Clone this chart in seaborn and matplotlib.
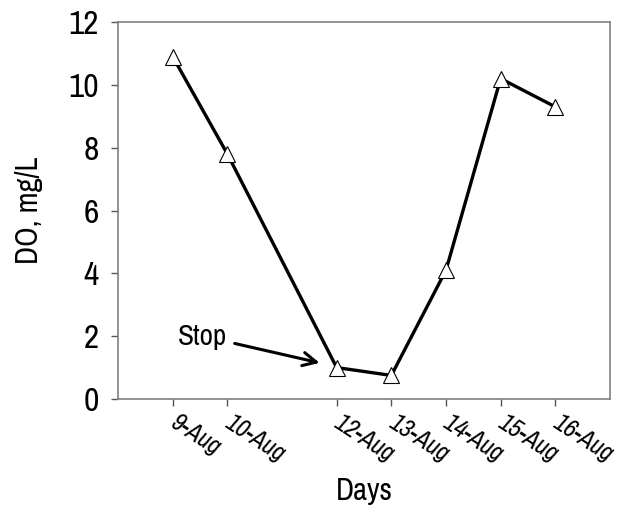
import pandas as pd
import matplotlib
matplotlib.use("Agg")
import matplotlib.pyplot as plt
import matplotlib.transforms as mtransforms
import seaborn as sns

# data
days = ["2009-08-09", "2009-08-10", "2009-08-12", "2009-08-13",
        "2009-08-14", "2009-08-15", "2009-08-16"]
do_mg_l = [10.9, 7.8, 1.0, 0.75, 4.1, 10.2, 9.3]
tick_labels = ["9-Aug", "10-Aug", "12-Aug", "13-Aug", "14-Aug", "15-Aug", "16-Aug"]


def main():
    sns.set_style("ticks")
    plt.rcParams["font.family"] = ["Archivo Narrow", "DejaVu Sans"]
    plt.rcParams["text.color"] = "black"
    plt.rcParams["axes.labelcolor"] = "black"
    plt.rcParams["xtick.color"] = "black"
    plt.rcParams["ytick.color"] = "black"

    df = pd.DataFrame({"Days": pd.to_datetime(days), "DO": do_mg_l})

    fig = plt.figure(figsize=(6.18, 5.08), dpi=100)
    ax = fig.add_axes([0.191, 0.2146, 0.796, 0.742])

    sns.lineplot(data=df, x="Days", y="DO", ax=ax, color="black", lw=2.4,
                 marker="^", markersize=12, markerfacecolor="white",
                 markeredgecolor="black", markeredgewidth=0.8)

    ax.set_xlim(pd.Timestamp("2009-08-08"), pd.Timestamp("2009-08-17"))
    ax.set_ylim(0, 12)
    ax.set_yticks(range(0, 13, 2))
    ax.set_xticks(df["Days"])
    ax.tick_params(axis="y", labelsize=24, pad=9)
    ax.tick_params(axis="both", color="#555555", length=5, width=1)
    ax.set_xticklabels(tick_labels, rotation=-33, ha="left", va="top",
                       rotation_mode="anchor", style="italic", fontsize=18)
    # nudge the slanted date labels so they start at their tick
    shift = mtransforms.ScaledTranslation(5 / 72, 0, fig.dpi_scale_trans)
    for tick in ax.xaxis.get_major_ticks():
        tick.label1.set_transform(tick.label1.get_transform() + shift)

    for s in ax.spines.values():
        s.set_visible(True)
        s.set_color("#808080")
        s.set_linewidth(1.2)

    ax.set_xlabel("Days", fontsize=22, labelpad=8)
    ax.set_ylabel("DO, mg/L", fontsize=22, labelpad=18)

    ax.annotate("Stop", xy=(pd.Timestamp("2009-08-11 16:30"), 1.15),
                xytext=(pd.Timestamp("2009-08-10 00:00"), 2.0),
                fontsize=21, ha="right", va="center",
                arrowprops=dict(arrowstyle="->", color="black", lw=2.2,
                                mutation_scale=24, shrinkA=3, shrinkB=0))

    fig.savefig("out.png", dpi=100)


if __name__ == "__main__":
    main()
